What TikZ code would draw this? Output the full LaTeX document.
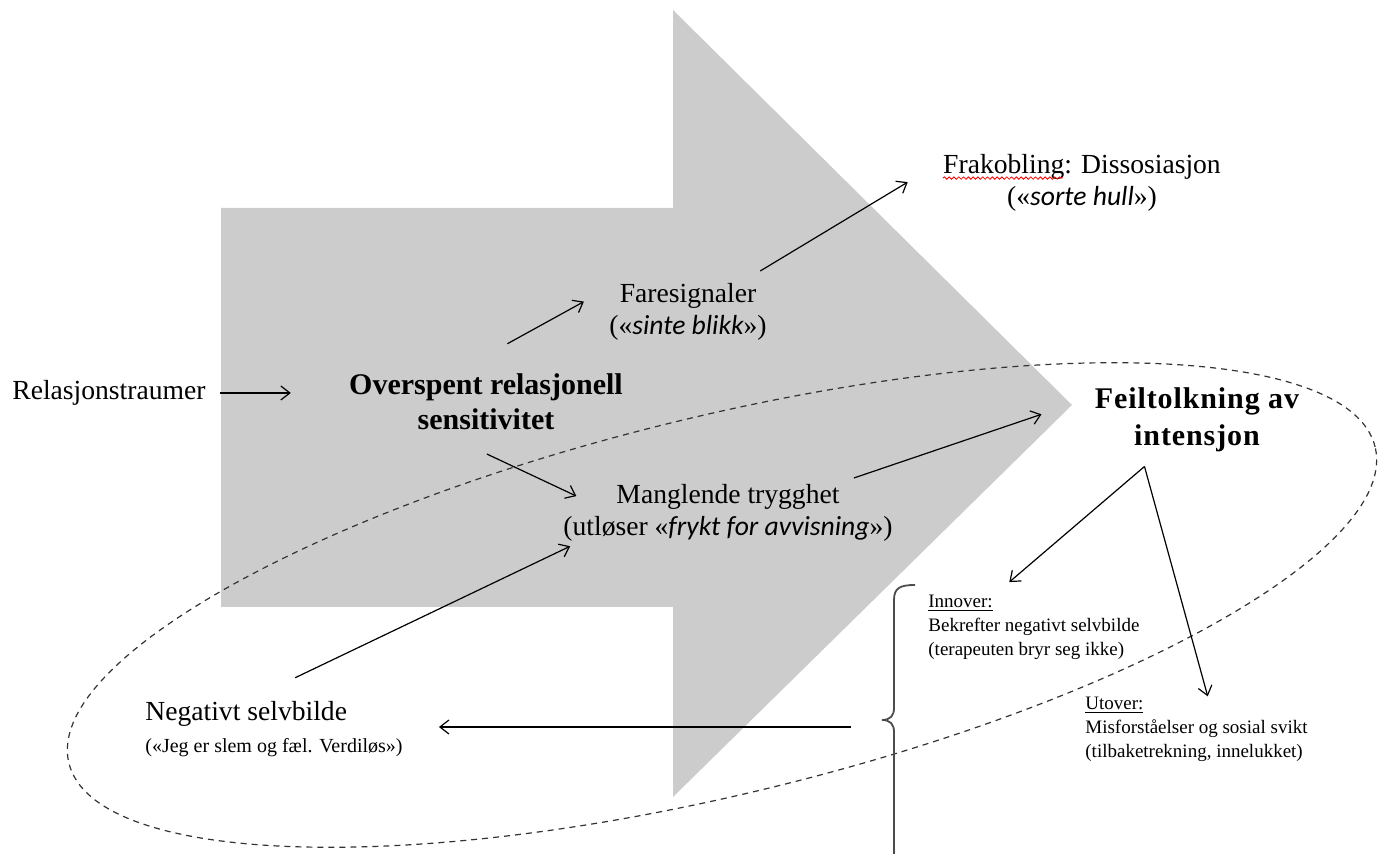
\documentclass[tikz,border=0pt]{standalone}
\usepackage{fontspec}
\usepackage{xcolor}
\usetikzlibrary{positioning, arrows.meta, decorations.pathmorphing}
\setmainfont{Liberation Serif}
\newfontfamily\calibri{Carlito}
\newfontfamily\spacedserif[LetterSpace=3]{Liberation Serif}
\newcommand{\calit}{\calibri\itshape}
\definecolor{arrowgray}{HTML}{CCCCCC}
\tikzset{
    big-arrow/.style = {fill=arrowgray, draw=none},
    plain-label/.style = {font=\fontsize{13.8}{16}\selectfont, align=center, inner sep=0pt},
    bold-label/.style = {font=\fontsize{15}{17.5}\selectfont\bfseries, align=center, inner sep=0pt},
    small-label/.style = {font=\fontsize{9.5}{12}\selectfont, align=left, inner sep=0pt},
    link-arrow/.style = {-{Straight Barb[length=4.5pt, width=7pt]}, line width=0.6pt},
    dashed-ring/.style = {dash pattern=on 3pt off 2.5pt, line width=0.6pt, draw=black!80},
    brace-line/.style = {line width=0.9pt, draw=black!70},
    spell-wave/.style = {draw=red, line width=0.4pt, decorate, decoration={snake, amplitude=0.6pt, segment length=2.4pt}},
}

\begin{document}
\begin{tikzpicture}[x=0.5pt, y=-0.5pt]
\useasboundingbox (0,0) rectangle (1389,854);
% the big grey arrow
\fill[big-arrow] (221,208) -- (673,208) -- (673,10) -- (1072,405) -- (673,797) -- (673,607) -- (221,607) -- cycle;
\draw[dashed-ring, rotate around={13.6:(722,605)}] (722,605) ellipse [x radius=336pt, y radius=94.5pt];
% brace
\draw[brace-line] (915,585) .. controls (900,585) and (894,588) .. (894,600) -- (894,708) .. controls (894,716) and (890,720) .. (882,720) .. controls (890,720) and (894,724) .. (894,732) -- (894,854);
\coordinate (bracetip) at (851,727);

\node[plain-label, anchor=west] (relasj) at (12,393) {Relasjonstraumer};
\node[bold-label] (overspent) at (486,402) {Overspent relasjonell\\sensitivitet};
\node[plain-label] (fare) at (688,312) {Faresignaler\\(«{\calit sinte blikk}»)};
\node[plain-label] (frak) at (1082,183) {Frakobling: Dissosiasjon\\(«{\calit sorte hull}»)};
\node[plain-label] (mangl) at (728,513) {Manglende trygghet\\(utløser «{\calit frykt for avvisning}»)};
\node[bold-label, font=\fontsize{15}{18.5}\selectfont\spacedserif\bfseries] (feil) at (1197,420) {Feiltolkning av\\intensjon};
\node[small-label, anchor=west] (innover) at (928,627) {\underline{Innover:}\\Bekrefter negativt selvbilde\\(terapeuten bryr seg ikke)};
\node[small-label, anchor=west] (utover) at (1085,729) {\underline{Utover:}\\Misforståelser og sosial svikt\\(tilbaketrekning, innelukket)};
\node[plain-label, anchor=west, align=left] (negativ) at (145,729) {Negativt selvbilde\\{\fontsize{10}{12}\selectfont («Jeg er slem og fæl. Verdiløs»)}};
\coordinate[below right=7pt and 25pt of feil.south west] (fork);
% spell-check mark under the first word
\draw[spell-wave] ([yshift=-12pt]frak.north west) -- ++(60pt,0);

% connectors
\draw[link-arrow, shorten <=7pt, shorten >=29pt] (relasj.east) -- (relasj.east -| overspent.west);
\draw[link-arrow, shorten <=30.9pt, shorten >=14.3pt] (overspent.139) -- (fare.163);
\draw[link-arrow, shorten <=11.7pt, shorten >=20.5pt] (fare.29) -- (frak.171);
\draw[link-arrow, shorten <=27.7pt, shorten >=-7.4pt] (overspent.210) -- (mangl.172.5);
\draw[link-arrow, shorten <=9.5pt, shorten >=28pt] (mangl.15.6) -- (feil.167);
\draw[link-arrow, shorten <=26.8pt, shorten >=5pt] (negativ.134) -- (mangl.191);
\draw[link-arrow, shorten >=9.4pt] (fork) -- (innover.140);
\draw[link-arrow] (fork) -- (utover.71);
\draw[link-arrow, shorten >=18pt] (bracetip) -- (bracetip -| negativ.east);
\end{tikzpicture}
\end{document}
